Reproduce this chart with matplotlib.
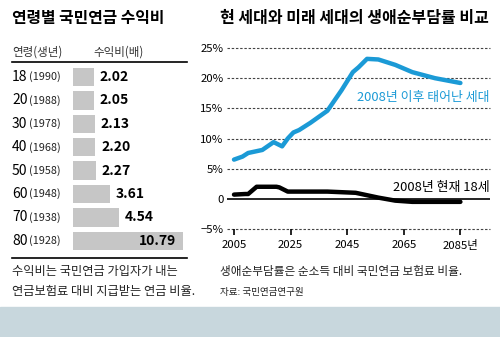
import numpy as np
import matplotlib
matplotlib.use("Agg")
import matplotlib.pyplot as plt
import matplotlib.transforms as mtransforms

plt.rcParams['font.family'] = ['Noto Sans CJK KR', 'DejaVu Sans']

# 왼쪽: 연령별 국민연금 수익비
ages = ['18', '20', '30', '40', '50', '60', '70', '80']
births = ['(1990)', '(1988)', '(1978)', '(1968)', '(1958)', '(1948)', '(1938)', '(1928)']
ratios = [2.02, 2.05, 2.13, 2.20, 2.27, 3.61, 4.54, 10.79]

# 오른쪽: 생애순부담률 (%)
years_future = [2005, 2008, 2010, 2015, 2019, 2022, 2024, 2026, 2028, 2032, 2038, 2043, 2047, 2049, 2052, 2056, 2062, 2068, 2076, 2085]
burden_future = [6.5, 7.0, 7.6, 8.1, 9.4, 8.7, 10.0, 11.0, 11.4, 12.6, 14.6, 18.0, 21.0, 21.8, 23.2, 23.1, 22.2, 21.0, 20.0, 19.2]
years_now = [2005, 2009, 2010, 2013, 2020, 2021, 2024, 2038, 2048, 2052, 2056, 2062, 2068, 2085]
burden_now = [0.7, 0.8, 0.8, 2.0, 2.0, 1.9, 1.2, 1.2, 1.0, 0.6, 0.2, -0.3, -0.5, -0.5]
y_ticks = [-5, 0, 5, 10, 15, 20, 25]
y_labels = ['−5%', '0', '5%', '10%', '15%', '20%', '25%']
x_ticks = [2005, 2025, 2045, 2065, 2085]
x_labels = ['2005', '2025', '2045', '2065', '2085년']

W, H = 500, 337
fig = plt.figure(figsize=(W / 100, H / 100), dpi=100)


def fx(x):
    return x / W


def fy(y):
    return 1 - y / H


def px_axes(x0, y0, x1, y1):
    return fig.add_axes([fx(x0), fy(y1), fx(x1) - fx(x0), fy(y0) - fy(y1)])


# 하단 배경 띠
fig.patches.append(plt.Rectangle((0, 0), 1, fy(307), transform=fig.transFigure,
                                 color='#c8d7dd', zorder=0))

# ---------- 왼쪽 패널 ----------
fig.text(fx(12), fy(18), '연령별 국민연금 수익비', fontsize=11.4, fontweight='bold',
         va='center', ha='left')
fig.text(fx(12), fy(52), '연령(생년)', fontsize=8.3, color='#333333', va='center')
fig.text(fx(93), fy(52), '수익비(배)', fontsize=8.3, color='#333333', va='center')
fig.add_artist(plt.Line2D([fx(12), fx(187)], [fy(62), fy(62)], color='black', lw=1.2))
fig.add_artist(plt.Line2D([fx(12), fx(187)], [fy(258), fy(258)], color='black', lw=1.2))

ax1 = px_axes(73, 65, 190, 253)
row_px = 23.4
ax1.set_ylim((253 - 77) / row_px, -(77 - 65) / row_px)
ax1.set_xlim(0, (190 - 73) / 10.2)
pos = np.arange(len(ratios))
ax1.barh(pos, ratios, height=0.78, color='#c6c6c6', edgecolor='none')
for i, v in zip(pos, ratios):
    txt = f'{v:.2f}'
    if v > 10:
        ax1.text(v - 0.65, i, txt, fontsize=10, fontweight='bold', va='center', ha='right')
    else:
        ax1.text(v + 0.55, i, txt, fontsize=10, fontweight='bold', va='center', ha='left')
ax1.axis('off')

trans = mtransforms.blended_transform_factory(fig.transFigure, ax1.transData)
for i, (a, b) in enumerate(zip(ages, births)):
    ax1.text(fx(12), i, a, fontsize=10, va='center', ha='left', transform=trans)
    ax1.text(fx(28.5), i, b, fontsize=7.8, va='center', ha='left', transform=trans,
             color='#222222')

fig.text(fx(12), fy(272), '수익비는 국민연금 가입자가 내는', fontsize=8.8, va='center', color='#222222')
fig.text(fx(12), fy(292), '연금보험료 대비 지급받는 연금 비율.', fontsize=8.8, va='center', color='#222222')

# ---------- 오른쪽 패널 ----------
fig.text(fx(220), fy(18), '현 세대와 미래 세대의 생애순부담률 비교', fontsize=11.5,
         fontweight='bold', va='center', ha='left')

ppy = 2.83
ppc = 6.03
ax2 = px_axes(227, 40, 490, 229)
ax2.set_xlim(2005 - 7 / ppy, 2005 + (490 - 234) / ppy)
ax2.set_ylim(-5, 25 + 8 / ppc)
for v in y_ticks:
    if v == 0:
        ax2.axhline(v, color='black', lw=1.2, zorder=1)
    else:
        ax2.axhline(v, color='#444444', lw=0.8, ls=(0, (2.2, 1.6)), zorder=1, clip_on=False)
ax2.plot(years_future, burden_future, color='#1b9ad6', lw=3.2, solid_capstyle='round',
         solid_joinstyle='round', zorder=3)
ax2.plot(years_now, burden_now, color='black', lw=3.2, solid_capstyle='round',
         solid_joinstyle='round', zorder=3)
for s in ax2.spines.values():
    s.set_visible(False)
ax2.set_yticks(y_ticks)
ax2.set_yticklabels(y_labels, fontsize=8.2)
ax2.set_xticks(x_ticks)
ax2.set_xticklabels(x_labels, fontsize=8.2)
ax2.tick_params(axis='y', length=0, pad=2.5)
ax2.tick_params(axis='x', length=4, width=1.2, direction='out', pad=4, color='black')
ax2.text(2095.2, 16.8, '2008년 이후 태어난 세대', color='#1b9ad6', fontsize=9.3,
         ha='right', va='center')
ax2.text(2095.2, 1.8, '2008년 현재 18세', color='black', fontsize=9.3, ha='right', va='center')

fig.text(fx(220), fy(271), '생애순부담률은 순소득 대비 국민연금 보험료 비율.', fontsize=8.4,
         va='center', color='#222222')
fig.text(fx(220), fy(292), '자료: 국민연금연구원', fontsize=6.9, va='center', color='#222222')

fig.savefig('out.png', dpi=100)
